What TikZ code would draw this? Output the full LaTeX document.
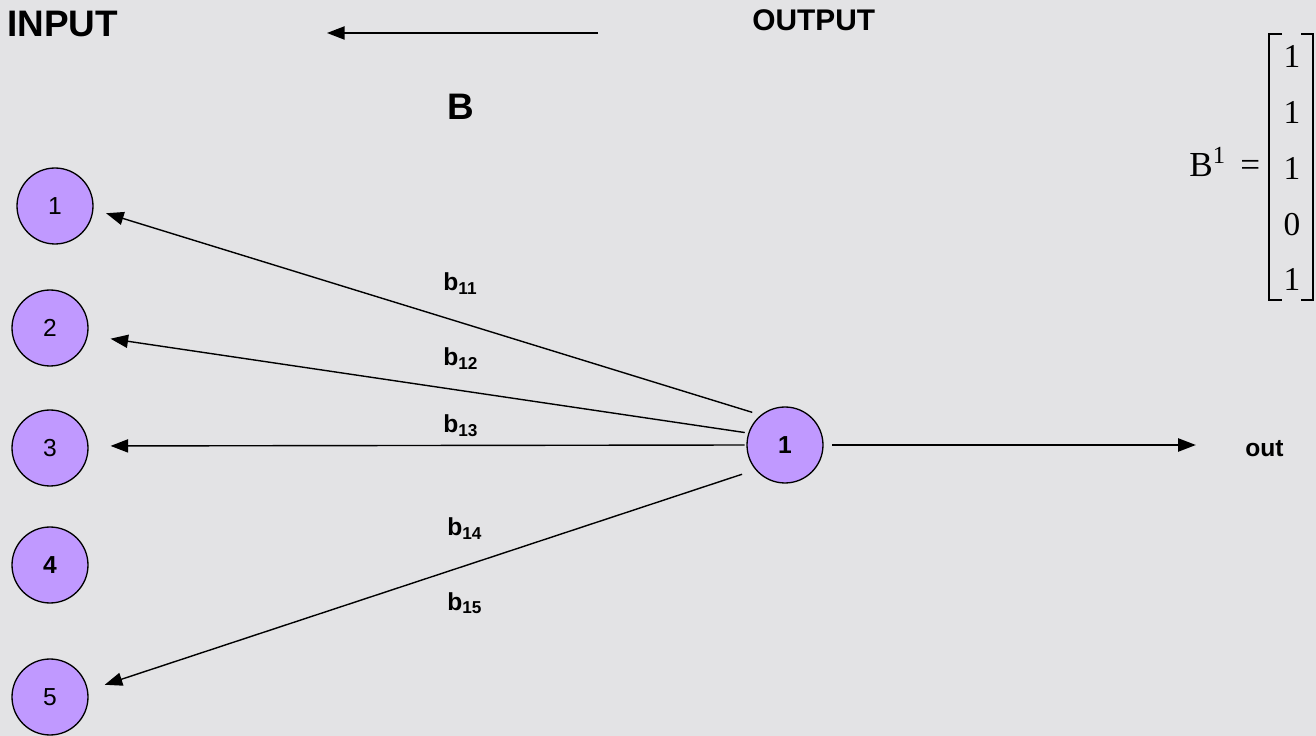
\documentclass[tikz,border=0pt]{standalone}
\usepackage{fontspec}
\setmainfont{Liberation Sans}
\newfontfamily\timesfont{Liberation Serif}
\usetikzlibrary{arrows.meta}
\usetikzlibrary{positioning}
\definecolor{marble}{RGB}{227,227,229}
\definecolor{neuron}{RGB}{192,153,255}
\tikzstyle{unit}=[draw,fill=neuron,circle,minimum size=1.52cm,inner sep=0pt,line width=0.75pt,font=\fontsize{14}{16}\selectfont]
\tikzstyle{lbl}=[inner sep=0pt,anchor=base west,font=\fontsize{14}{16}\selectfont\bfseries]

\begin{document}
\begin{tikzpicture}[x=0.02cm,y=-0.02cm,
  arr/.style={-{Triangle[length=10pt,width=7.5pt]},line width=0.8pt},
  title/.style={inner sep=0pt,anchor=base west,font=\fontsize{21}{25}\selectfont\bfseries}]
\fill[marble] (0,0) rectangle (1316,736);
\useasboundingbox (0,0) rectangle (1316,736);

% headings
\node [title] (inp) at (7,37) {INPUT};
\node [title,font=\fontsize{17}{21}\selectfont\bfseries] (outp) at (752,31) {OUTPUT};
\node [title] (bname) at (447,120) {B};
\coordinate (flowS) at (598,33);
\coordinate (flowE) at (327,33);
\draw [arr] (flowS) -- (flowE);

% input layer
\node [unit] (i1) at (55,206) {1};
\node [unit] (i2) at (50,328) {2};
\node [unit] (i3) at (50,448) {3};
\node [unit,font=\fontsize{14}{16}\selectfont\bfseries] (i4) at (50,565) {4};
\node [unit] (i5) at (50,697) {5};

% output unit
\node [unit,font=\fontsize{14}{16}\selectfont\bfseries] (h) at (785,445) {1};
\node [lbl] (out) at (1245,457) {out};
\draw [arr,shorten <=5pt,shorten >=28pt] (h.east) -- (h.east -| out.west);

% weights back to the inputs
\foreach \i/\a/\b/\s/\t in {1/129/-5/5pt/7.5pt, 2/162/-11/2pt/13pt, 3/180/3/1pt/12.5pt, 5/220/10/8pt/10pt}
  \draw [arr,shorten <=\s,shorten >=\t] (h.\a) -- (i\i.\b);

\node [lbl] (w11) at (443,291) {b\textsubscript{11}};
\node [lbl] (w12) at (443,366) {b\textsubscript{12}};
\node [lbl] (w13) at (443,433) {b\textsubscript{13}};
\node [lbl] (w14) at (447,536) {b\textsubscript{14}};
\node [lbl] (w15) at (447,610) {b\textsubscript{15}};

% weight vector
\node [inner sep=0pt,anchor=base west,font=\timesfont\fontsize{20}{24}\selectfont] (bvec) at (1189,177) {B\textsuperscript{1}};
\node [inner sep=0pt,anchor=base west,font=\timesfont\fontsize{20}{24}\selectfont] (eq) at (1240,177) {=};
\foreach \v [count=\r] in {1,1,1,0,1}
  \node [inner sep=0pt,anchor=base,font=\timesfont\fontsize{19}{23}\selectfont] (m\r) at (1292,{68+55.75*(\r-1)}) {\v};
\draw [line width=1.1pt] (1282,34) -- (1269,34) -- (1269,300) -- (1282,300);
\draw [line width=1.1pt] (1301,34) -- (1313,34) -- (1313,300) -- (1301,300);
\end{tikzpicture}
\end{document}
